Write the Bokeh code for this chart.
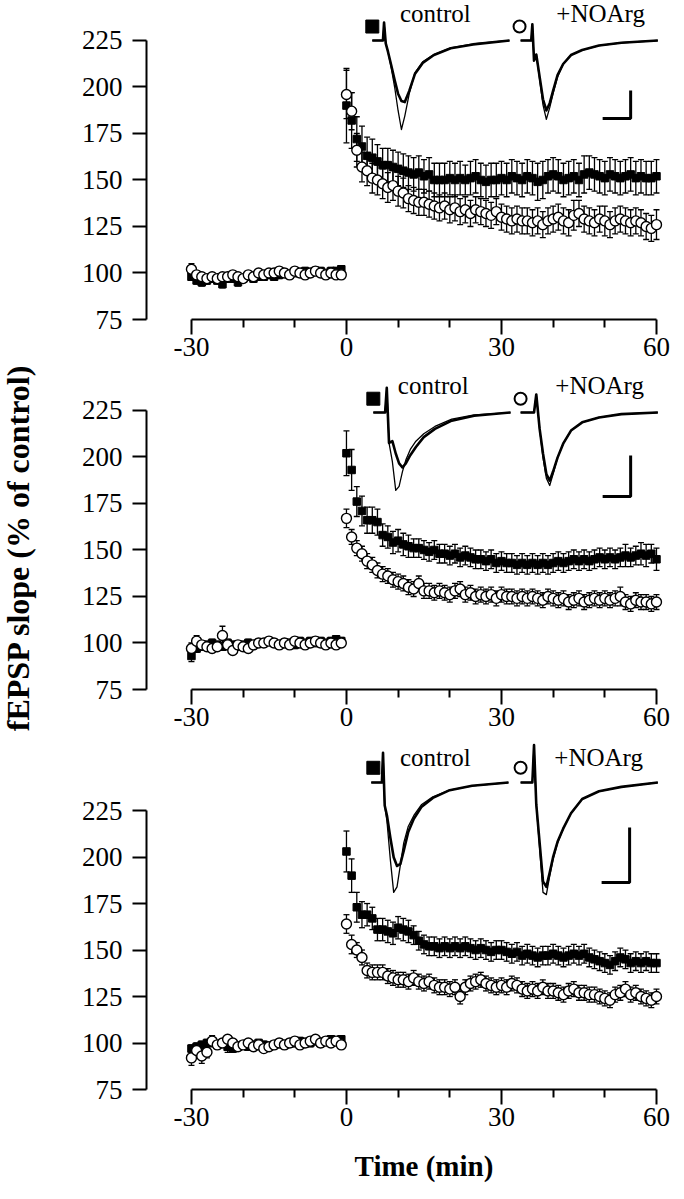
import numpy as np
from bokeh.plotting import figure
from bokeh.layouts import column, row
from bokeh.models import Range1d, FixedTicker, Whisker, ColumnDataSource, TeeHead
from bokeh.core.properties import value
from bokeh.embed import file_html
from bokeh.resources import INLINE

# ---------------- data ----------------
BASE_T = list(range(-30, 0))      # baseline sampling (min)
POST_T = list(range(0, 61))       # after tetanus (min)
Y_TICKS = [75, 100, 125, 150, 175, 200, 225]
X_TICKS = [-30, 0, 30, 60]
X_TICK_LABELS = {-30: "-30", 0: "0", 30: "30", 60: "60"}
X_MINOR = [-20, -10, 10, 20, 40, 50]
SERIES_NAMES = ["control", "+NOArg"]
Y_TITLE = "fEPSP slope (% of control)"
X_TITLE = "Time (min)"

# Panel 1
P1_CTRL_BASE = [98, 96, 95, 96, 97, 96, 94, 97, 97, 95,
                97, 98, 97, 98, 98, 99, 98, 99, 100, 99,
                100, 100, 101, 100, 101, 101, 100, 101, 101, 102]
P1_NOARG_BASE = [102, 99, 98, 97, 98, 97, 98, 98, 99, 98,
                 97, 99, 98, 100, 99, 100, 100, 101, 100, 99,
                 101, 100, 99, 100, 101, 100, 99, 100, 99, 99]
P1_CTRL_POST = [190, 182, 172, 168, 163, 162, 160, 158, 158, 157,
                156, 155, 154, 153, 154, 152, 153, 150, 150, 150,
                151, 150, 151, 150, 151, 152, 150, 149, 150, 150,
                151, 150, 152, 151, 150, 152, 151, 149, 150, 152,
                153, 152, 150, 151, 152, 150, 153, 154, 153, 152,
                151, 153, 152, 151, 152, 153, 151, 152, 151, 151,
                152]
P1_NOARG_POST = [196, 187, 166, 157, 155, 151, 150, 148, 146, 147,
                 144, 143, 140, 139, 138, 138, 137, 136, 135, 136,
                 134, 135, 133, 134, 132, 134, 133, 132, 131, 133,
                 130, 129, 128, 129, 128, 128, 127, 128, 126, 128,
                 129, 130, 128, 127, 131, 132, 129, 128, 127, 129,
                 128, 126, 128, 129, 128, 127, 128, 127, 125, 124,
                 126]
P1_CTRL_BASE_SEM = [2, 2, 2, 2, 2, 2, 2, 2, 2, 2,
                    2, 2, 2, 2, 2, 2, 2, 2, 2, 2,
                    2, 2, 2, 2, 2, 2, 2, 2, 2, 2]
P1_NOARG_BASE_SEM = [3, 2, 2, 2, 2, 2, 2, 2, 2, 2,
                     2, 2, 2, 2, 2, 2, 2, 2, 2, 2,
                     2, 2, 2, 2, 2, 2, 2, 2, 2, 2]
P1_CTRL_POST_SEM = [20, 15, 12, 11, 10, 10, 9, 9, 9, 9,
                    9, 9, 9, 9, 9, 9, 9, 9, 9, 9,
                    9, 9, 9, 8, 9, 9, 9, 9, 9, 9,
                    9, 9, 9, 9, 9, 9, 9, 10, 10, 9,
                    9, 9, 9, 9, 9, 9, 10, 9, 9, 9,
                    9, 9, 9, 9, 9, 9, 9, 9, 9, 9,
                    9]
P1_NOARG_POST_SEM = [13, 10, 9, 8, 8, 8, 8, 8, 8, 8,
                     8, 8, 7, 7, 7, 7, 7, 7, 7, 7,
                     7, 7, 7, 7, 7, 7, 7, 7, 7, 7,
                     7, 7, 7, 7, 7, 7, 7, 7, 7, 7,
                     7, 7, 7, 7, 8, 7, 7, 7, 7, 7,
                     8, 7, 7, 7, 7, 7, 7, 7, 7, 7,
                     8]

# Panel 2
P2_CTRL_BASE = [93, 97, 98, 99, 100, 99, 98, 100, 99, 98,
                99, 100, 99, 100, 100, 101, 100, 99, 100, 100,
                99, 101, 100, 101, 100, 101, 100, 101, 102, 101]
P2_NOARG_BASE = [97, 101, 99, 98, 97, 98, 104, 99, 96, 99,
                 98, 97, 99, 100, 100, 101, 100, 99, 100, 99,
                 101, 100, 99, 100, 101, 100, 99, 100, 99, 100]
P2_CTRL_POST = [202, 193, 176, 171, 166, 166, 165, 158, 157, 154,
                155, 153, 152, 151, 151, 150, 149, 150, 148, 148,
                147, 148, 146, 147, 146, 145, 145, 144, 145, 143,
                144, 143, 143, 142, 143, 142, 143, 142, 143, 142,
                143, 144, 143, 144, 145, 144, 145, 144, 145, 146,
                145, 146, 145, 146, 147, 146, 147, 148, 147, 148,
                145]
P2_NOARG_POST = [167, 157, 151, 148, 144, 142, 139, 137, 136, 134,
                 133, 132, 130, 129, 132, 128, 128, 127, 128, 127,
                 126, 128, 129, 126, 127, 125, 126, 125, 126, 124,
                 126, 125, 125, 124, 125, 124, 125, 124, 123, 125,
                 124, 123, 124, 122, 123, 124, 122, 123, 124, 123,
                 124, 123, 124, 125, 122, 121, 123, 122, 122, 121,
                 122]
P2_CTRL_BASE_SEM = [3, 2, 2, 2, 2, 2, 2, 2, 2, 2,
                    2, 2, 2, 2, 2, 2, 2, 2, 2, 2,
                    2, 2, 2, 2, 2, 2, 2, 2, 2, 2]
P2_NOARG_BASE_SEM = [3, 3, 2, 2, 2, 2, 5, 2, 2, 2,
                     2, 2, 2, 2, 2, 2, 2, 2, 2, 2,
                     2, 2, 2, 2, 2, 2, 2, 2, 2, 2]
P2_CTRL_POST_SEM = [12, 11, 8, 8, 7, 7, 7, 6, 6, 6,
                    6, 6, 6, 5, 5, 5, 5, 5, 5, 5,
                    5, 5, 5, 5, 5, 5, 5, 5, 5, 5,
                    5, 5, 5, 5, 5, 5, 5, 5, 5, 5,
                    5, 5, 5, 5, 5, 5, 5, 5, 5, 5,
                    5, 5, 5, 5, 6, 5, 5, 6, 6, 5,
                    6]
P2_NOARG_POST_SEM = [5, 4, 4, 4, 4, 4, 4, 4, 4, 4,
                     4, 4, 4, 4, 4, 4, 4, 4, 4, 4,
                     4, 4, 4, 4, 4, 4, 4, 4, 4, 4,
                     4, 4, 4, 4, 4, 4, 4, 4, 4, 4,
                     4, 4, 4, 4, 4, 4, 4, 4, 4, 4,
                     4, 4, 4, 5, 4, 4, 4, 4, 4, 4,
                     4]

# Panel 3
P3_CTRL_BASE = [97, 98, 99, 100, 101, 99, 100, 98, 97, 98,
                99, 98, 99, 100, 99, 98, 99, 100, 99, 100,
                100, 101, 100, 100, 101, 100, 101, 102, 101, 102]
P3_NOARG_BASE = [92, 96, 93, 95, 101, 99, 100, 102, 100, 98,
                 99, 100, 98, 99, 97, 98, 99, 100, 99, 100,
                 101, 99, 100, 101, 102, 100, 101, 100, 101, 99]
P3_CTRL_POST = [203, 190, 173, 169, 169, 167, 161, 161, 160, 159,
                162, 161, 160, 158, 155, 153, 152, 152, 151, 152,
                151, 152, 151, 152, 151, 150, 151, 150, 149, 150,
                150, 149, 148, 149, 147, 148, 147, 146, 147, 147,
                148, 147, 146, 147, 148, 147, 148, 146, 145, 144,
                143, 142, 144, 146, 145, 143, 144, 143, 144, 143,
                143]
P3_NOARG_POST = [164, 153, 150, 146, 139, 138, 138, 138, 136, 135,
                 134, 134, 133, 135, 133, 132, 133, 131, 130, 130,
                 129, 130, 125, 130, 132, 133, 134, 132, 131, 130,
                 131, 130, 132, 131, 129, 128, 129, 128, 130, 128,
                 128, 127, 126, 128, 129, 127, 127, 126, 126, 125,
                 124, 123, 126, 127, 129, 126, 127, 125, 124, 123,
                 125]
P3_CTRL_BASE_SEM = [2, 2, 2, 2, 2, 2, 2, 3, 2, 2,
                    2, 2, 2, 2, 2, 2, 2, 2, 2, 2,
                    2, 2, 2, 2, 2, 2, 2, 2, 2, 2]
P3_NOARG_BASE_SEM = [4, 3, 4, 3, 3, 2, 2, 2, 2, 2,
                     2, 2, 2, 2, 2, 2, 2, 2, 2, 2,
                     2, 2, 2, 2, 2, 2, 2, 2, 2, 2]
P3_CTRL_POST_SEM = [11, 9, 8, 7, 6, 6, 6, 6, 6, 6,
                    6, 6, 6, 5, 5, 5, 5, 5, 5, 5,
                    5, 5, 5, 5, 5, 5, 5, 5, 5, 5,
                    5, 5, 5, 5, 5, 5, 5, 5, 5, 5,
                    5, 5, 5, 5, 5, 5, 5, 5, 5, 5,
                    5, 5, 5, 5, 5, 5, 5, 5, 5, 5,
                    5]
P3_NOARG_POST_SEM = [5, 5, 4, 4, 4, 4, 4, 4, 4, 4,
                     4, 4, 4, 4, 4, 4, 4, 4, 4, 4,
                     4, 4, 4, 4, 4, 4, 4, 4, 4, 4,
                     4, 4, 4, 4, 4, 4, 4, 4, 4, 4,
                     4, 4, 4, 4, 4, 4, 4, 4, 4, 4,
                     4, 4, 4, 4, 4, 4, 4, 4, 4, 4,
                     4]

# Inset sweeps (ms, mV): "PRE" = baseline sweep (thick), "TET" = after tetanus (thin)
TRACE_T_MS = [0, 1.9, 2.1, 2.4, 2.8, 3.4, 4.0, 4.6, 5.2, 5.8, 6.6, 7.6, 9.0, 11.0, 14.0, 18.0, 24.5]
P1_CTRL_PRE = [0, 0, 0.32, -0.05, -0.2, -0.45, -0.71, -0.95, -1.08, -1.1, -0.9, -0.6, -0.4, -0.26, -0.14, -0.07, 0]
P1_CTRL_TET = [0, 0, 0.32, -0.05, -0.2, -0.5, -0.84, -1.25, -1.59, -1.35, -0.95, -0.58, -0.38, -0.25, -0.13, -0.06, 0]
P1_NOARG_PRE = [0, 0, 0.29, -0.36, -0.25, -0.65, -1.05, -1.25, -1.12, -0.9, -0.62, -0.42, -0.26, -0.17, -0.09, -0.04, 0]
P1_NOARG_TET = [0, 0, 0.29, -0.36, -0.25, -0.7, -1.15, -1.41, -1.2, -0.95, -0.65, -0.42, -0.26, -0.17, -0.09, -0.04, 0]
P2_CTRL_PRE = [0, 0, 0, 0.30, -0.37, -0.35, -0.5, -0.62, -0.67, -0.62, -0.52, -0.42, -0.3, -0.2, -0.1, -0.04, 0]
P2_CTRL_TET = [0, 0, 0, 0.30, -0.37, -0.6, -0.95, -0.9, -0.72, -0.58, -0.45, -0.35, -0.26, -0.17, -0.08, -0.03, 0]
P2_NOARG_PRE = [0, 0, 0, 0, 0.22, -0.2, -0.5, -0.75, -0.83, -0.72, -0.55, -0.38, -0.22, -0.12, -0.06, -0.02, 0]
P2_NOARG_TET = [0, 0, 0, 0, 0.22, -0.2, -0.55, -0.8, -0.89, -0.75, -0.55, -0.38, -0.22, -0.12, -0.06, -0.02, 0]
P3_CTRL_PRE = [0, 0, 0.27, -0.21, -0.3, -0.5, -0.68, -0.76, -0.74, -0.62, -0.45, -0.33, -0.22, -0.14, -0.07, -0.03, 0]
P3_CTRL_TET = [0, 0, 0.27, -0.21, -0.35, -0.7, -1.0, -0.95, -0.75, -0.55, -0.4, -0.3, -0.2, -0.13, -0.07, -0.03, 0]
P3_NOARG_PRE = [0, 0, 0, 0.34, -0.2, -0.55, -0.9, -0.95, -0.82, -0.68, -0.54, -0.42, -0.28, -0.15, -0.08, -0.04, 0]
P3_NOARG_TET = [0, 0, 0, 0.34, -0.2, -0.6, -1.0, -1.02, -0.85, -0.7, -0.55, -0.42, -0.28, -0.15, -0.08, -0.04, 0]
SCALE_MS = 5.0
SCALE_MV = 0.5

# ---------------- layout / placement ----------------
FONT = "Liberation Serif"
X_START, X_END = -38.7, 63.1
X_PER_MS = 1.084
LEFT_W = 44          # width of the strip that holds the y title
PANEL_W = 676 - LEFT_W
BORDER_L = 154 - 8 - LEFT_W
BORDER_R = 4

PANELS = [
    dict(height=372, border_bottom=53, y_end=246.5,
         ctrl=(P1_CTRL_BASE, P1_CTRL_POST, P1_CTRL_BASE_SEM, P1_CTRL_POST_SEM),
         noarg=(P1_NOARG_BASE, P1_NOARG_POST, P1_NOARG_BASE_SEM, P1_NOARG_POST_SEM),
         traces=((P1_CTRL_PRE, P1_CTRL_TET), (P1_NOARG_PRE, P1_NOARG_TET)),
         trace_x0=(5.0, 33.7), base_y=225.0, y_per_mv=30.1,
         sym_x=(5.0, 33.5), sym_y=232.5, text_x=(17.2, 49.2), text_y=239.6, bar=(55.0, 183.1)),
    dict(height=370, border_bottom=53, y_end=245.4,
         ctrl=(P2_CTRL_BASE, P2_CTRL_POST, P2_CTRL_BASE_SEM, P2_CTRL_POST_SEM),
         noarg=(P2_NOARG_BASE, P2_NOARG_POST, P2_NOARG_BASE_SEM, P2_NOARG_POST_SEM),
         traces=((P2_CTRL_PRE, P2_CTRL_TET), (P2_NOARG_PRE, P2_NOARG_TET)),
         trace_x0=(5.2, 33.7), base_y=223.9, y_per_mv=44.1,
         sym_x=(5.2, 33.7), sym_y=231.3, text_x=(16.8, 49.0), text_y=238.4, bar=(55.0, 178.8)),
    dict(height=397, border_bottom=50, y_end=261.6,
         ctrl=(P3_CTRL_BASE, P3_CTRL_POST, P3_CTRL_BASE_SEM, P3_CTRL_POST_SEM),
         noarg=(P3_NOARG_BASE, P3_NOARG_POST, P3_NOARG_BASE_SEM, P3_NOARG_POST_SEM),
         traces=((P3_CTRL_PRE, P3_CTRL_TET), (P3_NOARG_PRE, P3_NOARG_TET)),
         trace_x0=(4.8, 33.7), base_y=240.1, y_per_mv=59.1,
         sym_x=(5.2, 33.7), sym_y=248.0, text_x=(17.2, 48.8), text_y=253.5, bar=(54.8, 186.3)),
]
TITLE_H = 44
TOTAL_H = sum(c["height"] for c in PANELS) + TITLE_H


def series_source(base, post, base_sem, post_sem):
    x = BASE_T + POST_T
    y = list(base) + list(post)
    e = list(base_sem) + list(post_sem)
    lo = [a - b for a, b in zip(y, e)]
    hi = [a + b for a, b in zip(y, e)]
    return ColumnDataSource(dict(x=x, y=y, lo=lo, hi=hi))


def style_axes(p):
    for ax in (p.xaxis[0], p.yaxis[0]):
        ax.axis_line_width = 2
        ax.axis_line_color = "black"
        ax.major_tick_line_width = 2
        ax.major_tick_line_color = "black"
        ax.minor_tick_line_width = 2
        ax.minor_tick_line_color = "black"
        ax.major_tick_in = 0
        ax.minor_tick_in = 0
        ax.major_label_text_font = FONT
        ax.major_label_text_font_size = "27px"
        ax.major_label_text_color = "black"
    xa = p.xaxis[0]
    xa.bounds = (-30, 60)
    xa.ticker = FixedTicker(ticks=X_TICKS, minor_ticks=X_MINOR)
    xa.major_label_overrides = X_TICK_LABELS
    xa.major_tick_out = 15
    xa.minor_tick_out = 8
    xa.major_label_standoff = 3
    ya = p.yaxis[0]
    ya.bounds = (75, 225)
    ya.ticker = FixedTicker(ticks=Y_TICKS)
    ya.major_tick_out = 14
    ya.minor_tick_out = 0
    ya.major_label_standoff = 10


figs = []
for cfg in PANELS:
    p = figure(width=PANEL_W, height=cfg["height"],
               x_range=Range1d(X_START, X_END), y_range=Range1d(75, cfg["y_end"]),
               output_backend="svg", toolbar_location=None,
               min_border_left=BORDER_L, min_border_right=BORDER_R,
               min_border_top=0, min_border_bottom=cfg["border_bottom"])
    p.outline_line_color = None
    p.grid.visible = False
    p.background_fill_color = "white"
    style_axes(p)

    src_c = series_source(*cfg["ctrl"])
    src_n = series_source(*cfg["noarg"])
    for src in (src_c, src_n):
        w = Whisker(source=src, base="x", upper="hi", lower="lo",
                    line_color="black", line_width=1.3,
                    upper_head=TeeHead(size=6, line_width=1.3, line_color="black"),
                    lower_head=TeeHead(size=6, line_width=1.3, line_color="black"),
                    level="underlay")
        p.add_layout(w)
    p.scatter("x", "y", source=src_c, marker="square", size=7.5,
              fill_color="black", line_color="black", line_width=1)
    p.scatter("x", "y", source=src_n, marker="circle", size=10,
              fill_color="white", line_color="black", line_width=1.4)

    # inset sweeps
    for (pre, tet), x0 in zip(cfg["traces"], cfg["trace_x0"]):
        xs = [x0 + t * X_PER_MS for t in TRACE_T_MS]
        p.line(xs, [cfg["base_y"] + v * cfg["y_per_mv"] for v in pre],
               line_color="black", line_width=2.6, line_join="round")
        p.line(xs, [cfg["base_y"] + v * cfg["y_per_mv"] for v in tet],
               line_color="black", line_width=1.3, line_join="round")

    # inset symbols and names
    p.scatter([cfg["sym_x"][0]], [cfg["sym_y"]], marker="square", size=13,
              fill_color="black", line_color="black")
    p.scatter([cfg["sym_x"][1]], [cfg["sym_y"]], marker="circle", size=12,
              fill_color="white", line_color="black", line_width=2)
    p.text(x=list(cfg["text_x"]), y=[cfg["text_y"]] * 2, text=SERIES_NAMES,
           text_font=value(FONT), text_font_size="25px", text_color="black",
           text_align="center", text_baseline="middle")

    # scale bar
    bx, by = cfg["bar"]
    p.line([bx - SCALE_MS * X_PER_MS, bx, bx],
           [by, by, by + SCALE_MV * cfg["y_per_mv"]],
           line_color="black", line_width=3)
    figs.append(p)

# x title strip (same horizontal scale as the panels)
tx = figure(width=PANEL_W, height=TITLE_H, x_range=Range1d(X_START, X_END),
            y_range=Range1d(0, TITLE_H), output_backend="svg", toolbar_location=None,
            x_axis_type=None, y_axis_type=None,
            min_border_left=BORDER_L, min_border_right=BORDER_R,
            min_border_top=0, min_border_bottom=0)
tx.outline_line_color = None
tx.grid.visible = False
tx.text(x=[15.0], y=[18.0], text=[X_TITLE], text_font=value(FONT),
        text_font_style="bold", text_font_size="29px", text_color="black",
        text_align="center", text_baseline="middle")

# y title strip (vertical pixel scale of the page, top = 8)
ty = figure(width=LEFT_W, height=TOTAL_H, x_range=Range1d(8, 8 + LEFT_W),
            y_range=Range1d(8 + TOTAL_H, 8), output_backend="svg", toolbar_location=None,
            x_axis_type=None, y_axis_type=None,
            min_border_left=0, min_border_right=0, min_border_top=0, min_border_bottom=0)
ty.outline_line_color = None
ty.grid.visible = False
ty.text(x=[25.0], y=[555.0], text=[Y_TITLE], angle=90, angle_units="deg",
        text_font=value(FONT), text_font_style="bold", text_font_size="32px",
        text_color="black", text_align="center", text_baseline="middle")

layout = row(ty, column(*figs, tx, spacing=0), spacing=0)
open("out.html", "w").write(file_html(layout, INLINE))
